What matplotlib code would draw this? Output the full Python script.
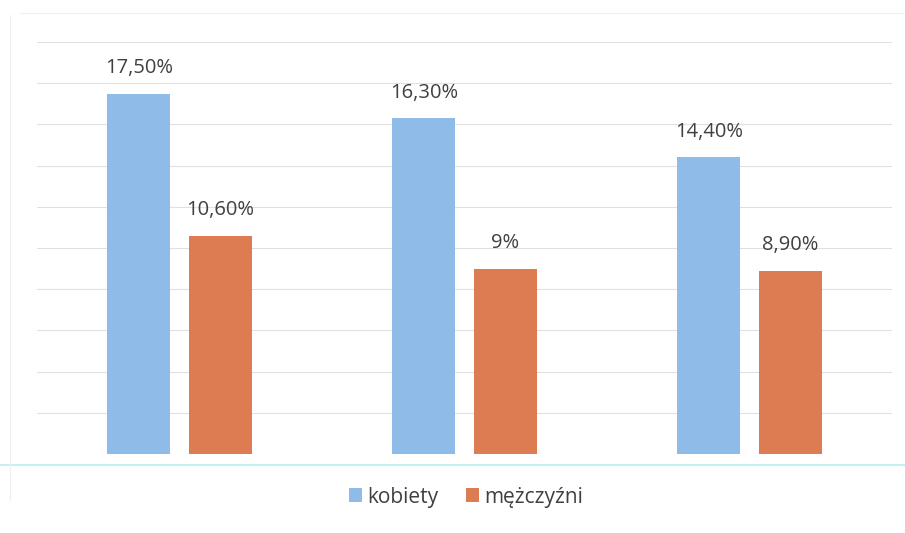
import matplotlib
matplotlib.use("Agg")
import matplotlib.pyplot as plt
import numpy as np
from matplotlib.lines import Line2D

categories = ["", "", ""]
kobiety = [17.5, 16.3, 14.4]
mezczyzni = [10.6, 9.0, 8.9]
labels_k = ["17,50%", "16,30%", "14,40%"]
labels_m = ["10,60%", "9%", "8,90%"]
series_names = ["kobiety", "mężczyźni"]

plt.rcParams['font.family'] = ['Open Sans', 'DejaVu Sans']

fig = plt.figure(figsize=(9.05, 5.33), dpi=100)
ax = fig.add_axes([37/905, 1-454/533, (892-37)/905, 412/533])

x = np.arange(len(categories))
w = 0.22
off = 0.143
blue = "#8fbbe8"
orange = "#dd7c52"
b1 = ax.bar(x - off, kobiety, w, color=blue, label=series_names[0], zorder=3)
b2 = ax.bar(x + off, mezczyzni, w, color=orange, label=series_names[1], zorder=3)

for bars, labs in ((b1, labels_k), (b2, labels_m)):
    for r, t in zip(bars, labs):
        ax.annotate(t, (r.get_x() + r.get_width()/2, r.get_height()),
                    xytext=(0, 11), textcoords="offset points",
                    ha="center", va="bottom", fontsize=14.5, color="#404040")

ax.set_xlim(-0.5, 2.5)
ax.set_ylim(0, 20)
ax.set_yticks(np.arange(0, 21, 2))
ax.yaxis.grid(True, color="#e0e0e0", linewidth=0.8, zorder=0)
ax.set_xticks([])
ax.tick_params(axis="y", length=0, labelleft=False)
for s in ax.spines.values():
    s.set_visible(False)

# faint scan artefacts: top border, cyan line and left border
fig.add_artist(Line2D([20/905, 1], [1-13/533, 1-13/533], color="#eeeeee", linewidth=0.8))
fig.add_artist(Line2D([0, 1], [1-465/533, 1-465/533], color="#b8eef0", linewidth=1.2))
fig.add_artist(Line2D([10/905, 10/905], [1-500/533, 1-15/533], color="#eeeeee", linewidth=0.8))

leg = fig.legend(handles=[b1, b2], labels=series_names, loc="center",
                 bbox_to_anchor=(466/905, 1-497/533), ncol=2, frameon=False,
                 fontsize=15, handlelength=0.65, handleheight=0.65,
                 handletextpad=0.25, columnspacing=1.3)
for t in leg.get_texts():
    t.set_color("#404040")

fig.savefig("out.png", dpi=100)
